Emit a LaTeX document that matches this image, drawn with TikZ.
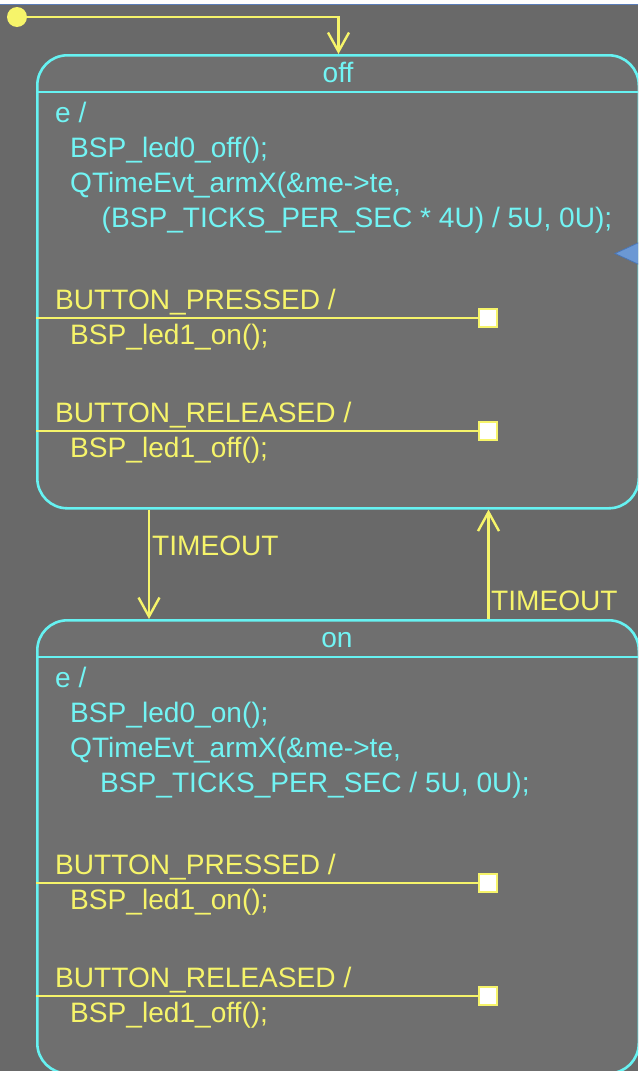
\documentclass[tikz,border=0pt]{standalone}
\usepackage{fontspec}
\setmainfont{Liberation Sans}
\usetikzlibrary{arrows.meta}
\definecolor{bgout}{HTML}{696969}
\definecolor{bgin}{HTML}{6F6F6F}
\definecolor{stateline}{HTML}{66F2F2}
\definecolor{codecyan}{HTML}{72F4F4}
\definecolor{transyel}{HTML}{F6F46A}
\definecolor{framblue}{HTML}{5B7DB8}
\definecolor{portfill}{HTML}{6B98D4}
\definecolor{portline}{HTML}{4A76B6}
\begin{document}
\begin{tikzpicture}[x=1pt,y=-1pt,
  statebox/.style={draw=stateline, line width=2.6pt, rounded corners=30pt, fill=bgin,
    minimum width=601.5pt, minimum height=453pt, anchor=north west, inner sep=0pt},
  sep/.style={draw=stateline, line width=2.6pt},
  txt/.style={inner sep=0pt, font=\fontsize{28.1}{33}\selectfont},
  code/.style={txt, anchor=base west, text=codecyan},
  evt/.style={txt, anchor=base west, text=transyel},
  title/.style={txt, anchor=base, text=codecyan},
  tr/.style={draw=transyel, line width=2.4pt},
  arr/.style={tr, -{Straight Barb[length=19pt,width=21pt]}},
  term/.style={draw=transyel, fill=white, line width=2.4pt, minimum size=18pt, inner sep=0pt}]
\useasboundingbox (0,0) rectangle (638,1071);
\clip (0,0) rectangle (638,1071);
% canvas
\fill[bgout] (0,0) rectangle (638,1071);
\fill[white] (0,0) rectangle (638,4);
\draw[framblue, line width=1.2pt] (0,4.5) -- (638,4.5);

% ---- state "off" ----
\node[statebox] (off) at (36,54) {};
\draw[sep] (off.west |- 0,92) -- ([xshift=4pt]off.east |- 0,92);
\node[title] (offname) at (338,82) {off};
\node[code] (offe) at (55,122) {e /};
\node[code] (offa1) at (70,157) {BSP\_led0\_off();};
\node[code] (offa2) at (70,192) {QTimeEvt\_armX(\&me->te,};
\node[code] (offa3) at (101.5,227) {(BSP\_TICKS\_PER\_SEC * 4U) / 5U, 0U);};
\node[evt] (offbp) at (55,309) {BUTTON\_PRESSED /};
\node[evt] (offbpa) at (70,344) {BSP\_led1\_on();};
\node[evt] (offbr) at (55,422) {BUTTON\_RELEASED /};
\node[evt] (offbra) at (70,457) {BSP\_led1\_off();};
\node[term] (offt1) at (488,318) {};
\node[term] (offt2) at (488,431) {};
\draw[tr] (off.west |- offt1) -- (offt1);
\draw[tr] (off.west |- offt2) -- (offt2);

% ---- state "on" ----
\node[statebox] (on) at (36,619) {};
\draw[sep] (on.west |- 0,657) -- ([xshift=4pt]on.east |- 0,657);
\node[title] (onname) at (337,647) {on};
\node[code] (one) at (55,687) {e /};
\node[code] (ona1) at (70,722) {BSP\_led0\_on();};
\node[code] (ona2) at (70,757) {QTimeEvt\_armX(\&me->te,};
\node[code] (ona3) at (100,792) {BSP\_TICKS\_PER\_SEC / 5U, 0U);};
\node[evt] (onbp) at (55,874) {BUTTON\_PRESSED /};
\node[evt] (onbpa) at (70,909) {BSP\_led1\_on();};
\node[evt] (onbr) at (55,987) {BUTTON\_RELEASED /};
\node[evt] (onbra) at (70,1022) {BSP\_led1\_off();};
\node[term] (ont1) at (488,883) {};
\node[term] (ont2) at (488,996) {};
\draw[tr] (on.west |- ont1) -- (ont1);
\draw[tr] (on.west |- ont2) -- (ont2);

% ---- port marker on the right edge ----
\filldraw[fill=portfill, draw=portline, line width=0.8pt]
  (615,253.5) -- (640,242) -- (640,265) -- cycle;

% ---- initial transition ----
\fill[transyel] (17,17) circle (10pt) coordinate (init);
\coordinate (bend) at (338.5,17);
\draw[arr] (init) -- (bend) -- (bend |- off.north);

% ---- TIMEOUT transitions ----
\coordinate (dx) at (149,0);
\coordinate (ux) at (488.5,0);
\draw[arr] (off.south -| dx) -- (on.north -| dx);
\draw[arr] (on.north -| ux) -- (off.south -| ux);
\node[evt] (tlab1) at (152,555) {TIMEOUT};
\node[evt] (tlab2) at (491,610) {TIMEOUT};
\end{tikzpicture}
\end{document}
